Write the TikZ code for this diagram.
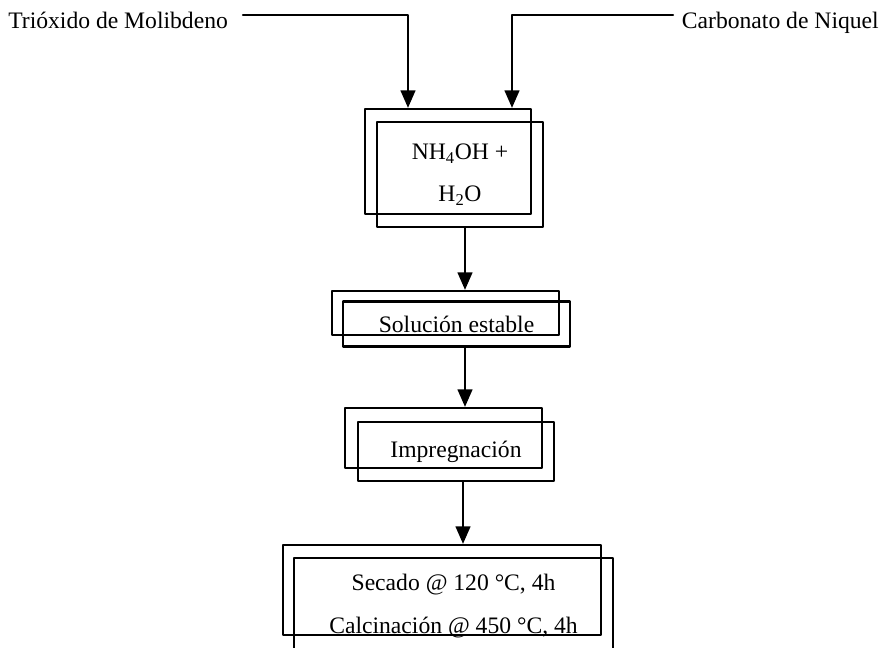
\documentclass[tikz,border=0pt]{standalone}
\usepackage{fontspec}
\setmainfont{Liberation Serif}
\usetikzlibrary{arrows.meta}
\tikzset{
  caja/.style={draw,line width=1.6pt,inner sep=0pt,align=center,font=\fontsize{16.8}{30}\selectfont},
  flecha/.style={line width=1.5pt,-{Triangle[length=0.44cm,width=0.37cm]}},
  rotulo/.style={inner sep=0pt,font=\fontsize{16.8}{19}\selectfont}
}
\begin{document}
\begin{tikzpicture}[line cap=round,line join=round,x=0.025cm,y=-0.025cm]
\useasboundingbox (0,0) rectangle (880,647);
\clip (0,0) rectangle (880,647);
% reactivos
\node[rotulo,anchor=base west] (trioxido) at (8,28) {Trióxido de Molibdeno};
\node[rotulo,anchor=base east] (carbonato) at (879,28) {Carbonato de Niquel};
\coordinate (inA) at (243,15);
\coordinate (inB) at (673,15);
% cajas (atras / adelante)
\node[caja,minimum width=4.15cm,minimum height=2.625cm] (mezclaA) at (448,161.5) {};
\node[caja,minimum width=4.15cm,minimum height=2.625cm] (mezcla) at (460,174.5) {NH\textsubscript{4}OH +\\H\textsubscript{2}O};
\node[caja,minimum width=5.675cm,minimum height=1.1cm] (solucionA) at (445.5,313) {};
\node[caja,minimum width=5.675cm,minimum height=1.125cm] (solucion) at (456.5,324) {Solución estable};
\node[caja,minimum width=4.925cm,minimum height=1.5cm] (impregA) at (443.5,438) {};
\node[caja,minimum width=4.9cm,minimum height=1.475cm] (impreg) at (456,451.5) {Impregnación};
\node[caja,minimum width=7.95cm,minimum height=2.25cm] (tratamA) at (442,590) {};
\node[caja,minimum width=7.975cm,minimum height=2.4cm] (tratam) at (453.5,606) {Secado @ 120 °C, 4h\\Calcinación @ 450 °C, 4h};
% flechas
\draw[flecha] (inA) -| (408,0 |- mezclaA.north);
\draw[flecha] (inB) -| (512,0 |- mezclaA.north);
\draw[flecha] (465,0 |- mezcla.south) -- (465,0 |- solucionA.north);
\draw[flecha] (465,0 |- solucion.south) -- (465,0 |- impregA.north);
\draw[flecha] (463,0 |- impreg.south) -- (463,0 |- tratamA.north);
\end{tikzpicture}
\end{document}
